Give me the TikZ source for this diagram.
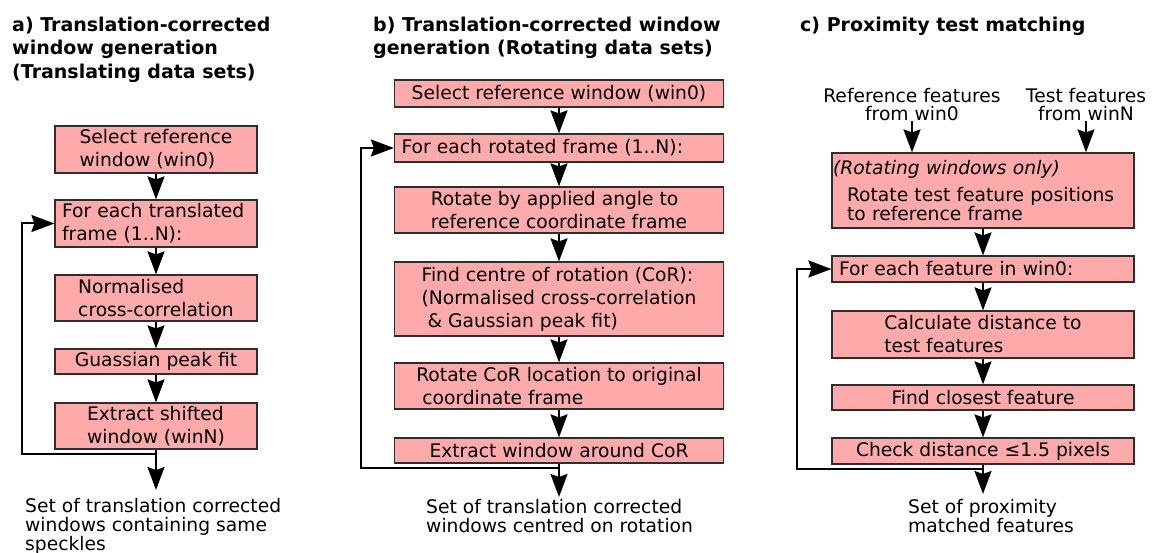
\documentclass[tikz,border=0pt]{standalone}
\usepackage{fontspec}
\setmainfont{DejaVu Sans}
\usepackage{tikz}
\usetikzlibrary{arrows.meta}
\usetikzlibrary{calc}
\usetikzlibrary{positioning}
\definecolor{boxpink}{RGB}{255,170,170}
\definecolor{boxedge}{RGB}{45,45,45}
\tikzset{box/.style={draw=boxedge, line width=1.2pt, fill=boxpink, align=left,
    inner xsep=4pt, inner ysep=1pt, font=\fontsize{18.7}{23}\selectfont}}
\tikzset{loopbox/.style={box, text width=#1, inner xsep=7pt}}
\tikzset{arrow/.style={-{Stealth[length=23pt,width=17pt,inset=3pt]}, line width=2pt}}
\tikzset{title/.style={anchor=north west, inner sep=0pt, align=left,
    font=\fontsize{19}{23.5}\selectfont\bfseries}}
\tikzset{result/.style={anchor=north west, inner sep=0pt, align=left,
    font=\fontsize{18.7}{19}\selectfont}}
\tikzset{feed/.style={anchor=north, inner sep=0pt, align=center,
    font=\fontsize{18.7}{18.5}\selectfont}}

\begin{document}
\begin{tikzpicture}[x=1pt, y=-1pt]
        \useasboundingbox (0,0) rectangle (1154,553);

        % a) translating data sets
        \node[title] (tia) at (12,16.5) {a) Translation-corrected\\window generation\\(Translating data sets)};
        \node[box, minimum width=202pt, minimum height=47pt] (sra) at (156,149.5) {Select reference\\window (win0)};
        \node[loopbox=188pt, minimum height=47pt] (fta) at (156,223.5) {For each translated\\frame (1..N):};
        \node[box, minimum width=202pt, minimum height=46pt] (nca) at (156,298) {Normalised\\cross-correlation};
        \node[box, minimum width=202pt, minimum height=25pt] (gpa) at (156,361.5) {Guassian peak fit};
        \node[box, minimum width=202pt, minimum height=46pt] (esa) at (156,426) {Extract shifted\\window (winN)};
        \node[result] (oua) at (25,498) {Set of translation corrected\\windows containing same\\speckles};

        \draw[arrow] (sra) -- (fta);
        \draw[arrow] (fta) -- (nca);
        \draw[arrow] (nca) -- (gpa);
        \draw[arrow] (gpa) -- (esa);
        \draw[arrow, shorten >=8pt] (esa) -- (esa.south |- oua.north);
        \draw[arrow] ($(esa.south)+(0,4)$) -| ($(fta.west)+(-32,0)$) -- (fta.west);

        % b) rotating data sets
        \node[title] (tib) at (373,16.5) {b) Translation-corrected window\\generation (Rotating data sets)};
        \node[box, minimum width=329pt, minimum height=27pt] (srb) at (559,93.5) {Select reference window (win0)};
        \node[loopbox=315pt, minimum height=28pt] (frb) at (559,148) {For each rotated frame (1..N):};
        \node[box, minimum width=329pt, minimum height=46pt] (rab) at (559,210) {Rotate by applied angle to\\reference coordinate frame};
        \node[box, minimum width=329pt, minimum height=74pt] (fcb) at (559,299) {Find centre of rotation (CoR):\\(Normalised cross-correlation\\\hspace*{6pt}\& Gaussian peak fit)};
        \node[box, minimum width=329pt, minimum height=46pt] (rcb) at (559,386) {Rotate CoR location to original\\\hspace*{6pt}coordinate frame};
        \node[box, minimum width=329pt, minimum height=25pt] (ewb) at (559,450.5) {Extract window around CoR};
        \node[result] (oub) at (426,499) {Set of translation corrected\\windows centred on rotation};

        \draw[arrow] (srb) -- (frb);
        \draw[arrow] (frb) -- (rab);
        \draw[arrow] (rab) -- (fcb);
        \draw[arrow] (fcb) -- (rcb);
        \draw[arrow] (rcb) -- (ewb);
        \draw[arrow, shorten >=2pt] (ewb) -- (ewb.south |- oub.north);
        \draw[arrow] ($(ewb.south)+(0,4)$) -| ($(frb.west)+(-33,0)$) -- (frb.west);

        % c) proximity test matching
        \node[title] (tic) at (800,16.5) {c) Proximity test matching};
        \node[feed] (rfc) at (912,88) {Reference features\\from win0};
        \node[feed] (tfc) at (1086,88) {Test features\\from winN};
        \node[box, text width=300pt, inner xsep=1pt, minimum height=75pt,
            font=\fontsize{18.7}{18.5}\selectfont] (rtc) at (983,190.5)
            {\textit{(Rotating windows only)}\\[8.5pt]\hspace*{14pt}Rotate test feature positions\\\hspace*{14pt}to reference frame};
        \node[loopbox=288pt, minimum height=26pt] (fec) at (983,269) {For each feature in win0:};
        \node[box, minimum width=302pt, minimum height=47pt] (cdc) at (983,334.5) {Calculate distance to\\test features};
        \node[box, minimum width=302pt, minimum height=25pt] (fcc) at (983,397.5) {Find closest feature};
        \node[box, minimum width=302pt, minimum height=26pt] (chc) at (983,451) {Check distance ≤1.5 pixels};
        \node[result] (ouc) at (908,499) {Set of proximity\\matched features};

        \draw[arrow] (rfc) -- (rfc |- rtc.north);
        \draw[arrow] (tfc) -- (tfc |- rtc.north);
        \draw[arrow] (rtc) -- (fec);
        \draw[arrow] (fec) -- (cdc);
        \draw[arrow] (cdc) -- (fcc);
        \draw[arrow] (fcc) -- (chc);
        \draw[arrow, shorten >=5pt] (chc) -- (chc.south |- ouc.north);
        \draw[arrow] ($(chc.south)+(0,4)$) -| ($(fec.west)+(-34,0)$) -- (fec.west);
\end{tikzpicture}
\end{document}
